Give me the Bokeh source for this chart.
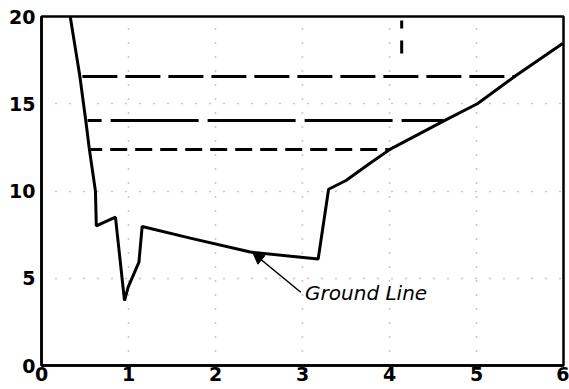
from bokeh.plotting import figure
from bokeh.models import Arrow, NormalHead, Label, FixedTicker
from bokeh.embed import file_html
from bokeh.resources import INLINE

# Ground profile
ground_x = [0.33, 0.44, 0.51, 0.55, 0.62, 0.63, 0.85, 0.954, 0.996, 1.12, 1.157,
            1.71, 2.40, 3.18, 3.30, 3.50, 3.78, 4.01, 4.62, 5.01, 5.45, 5.99]
ground_y = [20.0, 16.6, 14.0, 12.4, 10.0, 8.0, 8.5, 3.72, 4.49, 5.92, 7.97,
            7.3, 6.5, 6.1, 10.1, 10.6, 11.6, 12.4, 14.0, 15.0, 16.6, 18.45]

# Horizontal level lines
level_y = [16.56, 14.04, 12.38]
level_x0 = [0.47, 0.53, 0.56]
level_x1 = [5.45, 4.62, 4.01]
level_dash = ["35 8", "88 9", "17 8"]
level_offset = [0, 74, 5]

# Short vertical mark
mark_x = [4.14, 4.14]
mark_y0 = [19.77, 18.62]
mark_y1 = [19.31, 17.88]

x_ticks = [0, 1, 2, 3, 4, 5, 6]
y_ticks = [0, 5, 10, 15, 20]

annot_text = "Ground Line"
annot_tail = (2.98, 4.2)
annot_head = (2.43, 6.45)

p = figure(width=569, height=389, x_range=(0, 6), y_range=(0, 20),
           output_backend="svg", toolbar_location=None,
           min_border_left=41, min_border_top=16, min_border_right=6, min_border_bottom=24)

p.background_fill_color = "white"
p.border_fill_color = "white"
p.outline_line_color = "black"
p.outline_line_width = 2.5

for ax in (p.xaxis, p.yaxis):
    ax.axis_line_color = "black"
    ax.axis_line_width = 2.5
    ax.major_tick_in = 0
    ax.major_tick_out = 0
    ax.minor_tick_in = 0
    ax.minor_tick_out = 0
    ax.major_label_text_font = "DejaVu Sans"
    ax.major_label_text_font_size = "19px"
    ax.major_label_text_font_style = "bold"
    ax.major_label_text_color = "black"

p.xaxis.ticker = FixedTicker(ticks=x_ticks)
p.yaxis.ticker = FixedTicker(ticks=y_ticks)
p.xaxis.major_label_standoff = 1
p.yaxis.major_label_standoff = 6

for g in (p.xgrid, p.ygrid):
    g.grid_line_color = "#777777"
    g.grid_line_dash = "1 13"
    g.grid_line_width = 1.5
    g.grid_line_alpha = 0.8

p.line(ground_x, ground_y, line_color="black", line_width=3)

for y, x0, x1, d, off in zip(level_y, level_x0, level_x1, level_dash, level_offset):
    p.line([x0, x1], [y, y], line_color="black", line_width=3,
           line_dash=d, line_dash_offset=off)

p.segment(mark_x, mark_y0, mark_x, mark_y1, line_color="black", line_width=3)

p.add_layout(Arrow(end=NormalHead(size=11, fill_color="black", line_color="black"),
                   x_start=annot_tail[0], y_start=annot_tail[1],
                   x_end=annot_head[0], y_end=annot_head[1],
                   line_color="black", line_width=1.5))
p.add_layout(Label(x=3.03, y=4.15, text=annot_text, text_font="DejaVu Sans",
                   text_font_style="italic", text_font_size="20px",
                   text_baseline="middle", text_align="left", text_color="black"))

open("out.html", "w").write(file_html(p, INLINE))
